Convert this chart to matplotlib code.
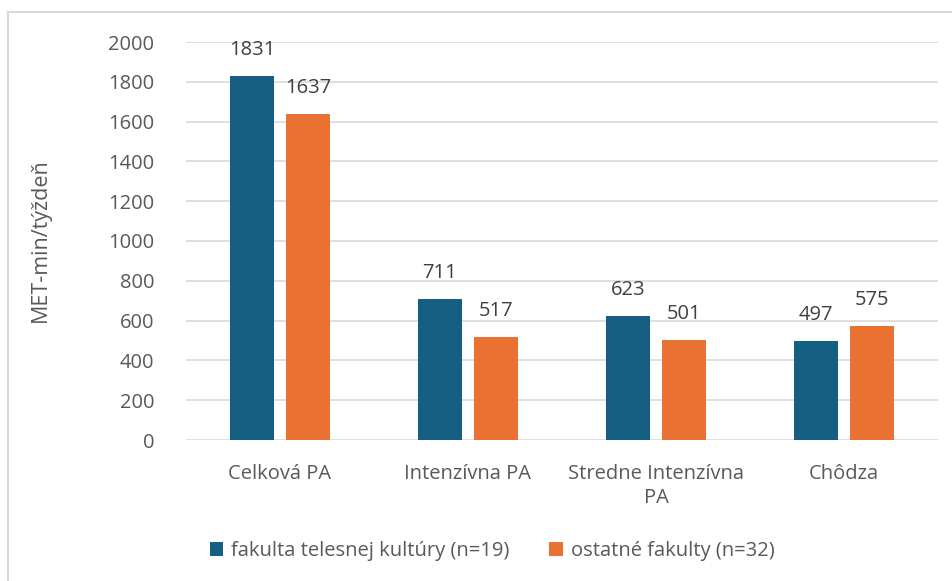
import matplotlib.pyplot as plt
from matplotlib.lines import Line2D
import numpy as np

categories = ['Celková PA', 'Intenzívna PA', 'Stredne Intenzívna\nPA', 'Chôdza']
ftk = [1831, 711, 623, 497]
ostatne = [1637, 517, 501, 575]
series_names = ['fakulta telesnej kultúry (n=19)', 'ostatné fakulty (n=32)']
yticks = np.arange(0, 2001, 200)

blue = '#156082'
orange = '#E97132'
gray = '#595959'

plt.rcParams['font.family'] = ['Open Sans', 'DejaVu Sans']

fig = plt.figure(figsize=(9.52, 5.81), dpi=100)
ax = fig.add_axes([186 / 952, 1 - 440 / 581, 752 / 952, 398 / 581])

x = np.arange(len(categories))
w = 0.229
off = 0.149
b1 = ax.bar(x - off, ftk, w, color=blue, label=series_names[0], zorder=3)
b2 = ax.bar(x + off, ostatne, w, color=orange, label=series_names[1], zorder=3)

for bars in (b1, b2):
    for rect in bars:
        h = rect.get_height()
        ax.annotate(f'{h:.0f}', (rect.get_x() + rect.get_width() / 2, h),
                    xytext=(0, 26), textcoords='offset pixels',
                    ha='center', va='center', fontsize=14.5, color='#404040')

ax.set_xlim(-0.5, len(categories) - 0.5)
ax.set_ylim(0, 2000)
ax.set_yticks(yticks)
ax.set_yticklabels([str(t) for t in yticks], fontsize=14.5, color=gray)
ax.set_xticks(x)
ax.set_xticklabels(categories, fontsize=14.5, color=gray, linespacing=1.3)
ax.tick_params(axis='both', length=0)
ax.tick_params(axis='y', pad=23)
ax.tick_params(axis='x', pad=17)
ax.grid(axis='y', color='#d9d9d9', linewidth=1.2, zorder=0)
for s in ax.spines.values():
    s.set_visible(False)

fig.text(40 / 952, 1 - 240 / 581, 'MET-min/týždeň', rotation=90,
         ha='center', va='center', fontsize=15.5, color=gray)

ax.legend(loc='center', bbox_to_anchor=(492 / 952, 1 - 551 / 581),
          bbox_transform=fig.transFigure, ncol=2, frameon=False,
          fontsize=14.5, labelcolor=gray, handlelength=0.65, handleheight=0.65,
          handletextpad=0.4, columnspacing=2.0)

# outer chart border (left and top only, picture is cropped)
fig.add_artist(Line2D([8 / 952, 8 / 952], [0, 1 - 12 / 581], color='#d9d9d9',
                      linewidth=1.5, transform=fig.transFigure))
fig.add_artist(Line2D([8 / 952, 1], [1 - 12 / 581, 1 - 12 / 581], color='#d9d9d9',
                      linewidth=1.5, transform=fig.transFigure))

plt.savefig('out.png', dpi=100)
